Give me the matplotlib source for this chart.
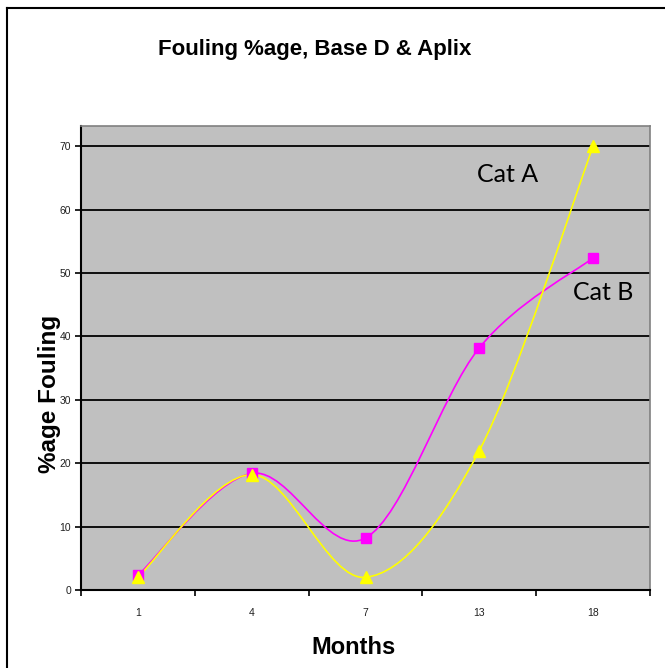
import matplotlib
matplotlib.use("Agg")
import matplotlib.pyplot as plt
from matplotlib.path import Path
from matplotlib.patches import PathPatch
from matplotlib.lines import Line2D
import numpy as np

months = ["1", "4", "7", "13", "18"]
cat_a = [2.0, 18.2, 2.0, 22.0, 70.0]     # yellow triangles
cat_b = [2.3, 18.4, 8.2, 38.2, 52.4]     # magenta squares
y_ticks = [0, 10, 20, 30, 40, 50, 60, 70]

plt.rcParams['font.family'] = ['Liberation Sans', 'DejaVu Sans']

W, H = 665, 668
fig = plt.figure(figsize=(W / 100, H / 100), dpi=100)
ax = fig.add_axes([81 / W, 1 - 590 / H, (650 - 81) / W, (590 - 126) / H])
ax.set_facecolor('#C0C0C0')

x = np.arange(len(months))
ax.set_xlim(-0.5, len(months) - 0.5)
ax.set_ylim(0, 73.2)


def smooth_path(xs, ys):
    pts = np.column_stack([xs, ys]).astype(float)
    n = len(pts)
    verts = [pts[0]]
    codes = [Path.MOVETO]
    for i in range(n - 1):
        p0 = pts[i - 1] if i > 0 else pts[i]
        p1 = pts[i]
        p2 = pts[i + 1]
        p3 = pts[i + 2] if i + 2 < n else pts[i + 1]
        c1 = p1 + (p2 - p0) / 6.0
        c2 = p2 - (p3 - p1) / 6.0
        verts += [c1, c2, p2]
        codes += [Path.CURVE4] * 3
    return Path(verts, codes)


for ys, color, marker, ms in [(cat_b, '#FF00FF', 's', 7), (cat_a, '#FFFF00', '^', 8.5)]:
    patch = PathPatch(smooth_path(x, ys), facecolor='none', edgecolor=color, lw=1.2,
                      transform=ax.transData, zorder=3)
    ax.add_patch(patch)
    ax.plot(x, ys, linestyle='none', marker=marker, markersize=ms, color=color,
            markeredgecolor=color, zorder=4, clip_on=False)

ax.set_yticks(y_ticks)
ax.set_yticklabels([str(v) for v in y_ticks])
ax.yaxis.grid(True, color='black', lw=1.3)
ax.set_axisbelow(True)

ax.set_xticks(x)
ax.set_xticklabels(months)
ax.set_xticks(np.arange(len(months) + 1) - 0.5, minor=True)
ax.tick_params(axis='x', which='major', length=0, pad=13, labelsize=7.5, labelcolor='#202020')
ax.tick_params(axis='x', which='minor', length=4, width=1.2, direction='out')
ax.tick_params(axis='y', length=4, width=1.2, direction='out', labelsize=7.5, pad=3,
               labelcolor='#202020')

for s in ['left', 'bottom']:
    ax.spines[s].set_color('black')
    ax.spines[s].set_linewidth(1.5)
for s in ['top', 'right']:
    ax.spines[s].set_color('#808080')
    ax.spines[s].set_linewidth(1.2)

fig.text(315 / W, 1 - 50 / H, "Fouling %age, Base D & Aplix", ha='center', va='center',
         fontsize=16, fontweight='bold')
fig.text(353 / W, 1 - 648 / H, "Months", ha='center', va='center', fontsize=17,
         fontweight='bold')
fig.text(50 / W, 1 - 394 / H, "%age Fouling", ha='center', va='center', fontsize=17.5,
         fontweight='bold', rotation=90)

fig.text(508 / W, 1 - 175 / H, "Cat A", ha='center', va='center', fontsize=18, family='Lato')
fig.text(603 / W, 1 - 293 / H, "Cat B", ha='center', va='center', fontsize=18, family='Lato')

fig.add_artist(Line2D([7 / W, 7 / W], [0, 1 - 8 / H], transform=fig.transFigure, color='black', lw=1.5))
fig.add_artist(Line2D([7 / W, 1], [1 - 8 / H, 1 - 8 / H], transform=fig.transFigure, color='black', lw=1.5))

fig.savefig('out.png', dpi=100)
